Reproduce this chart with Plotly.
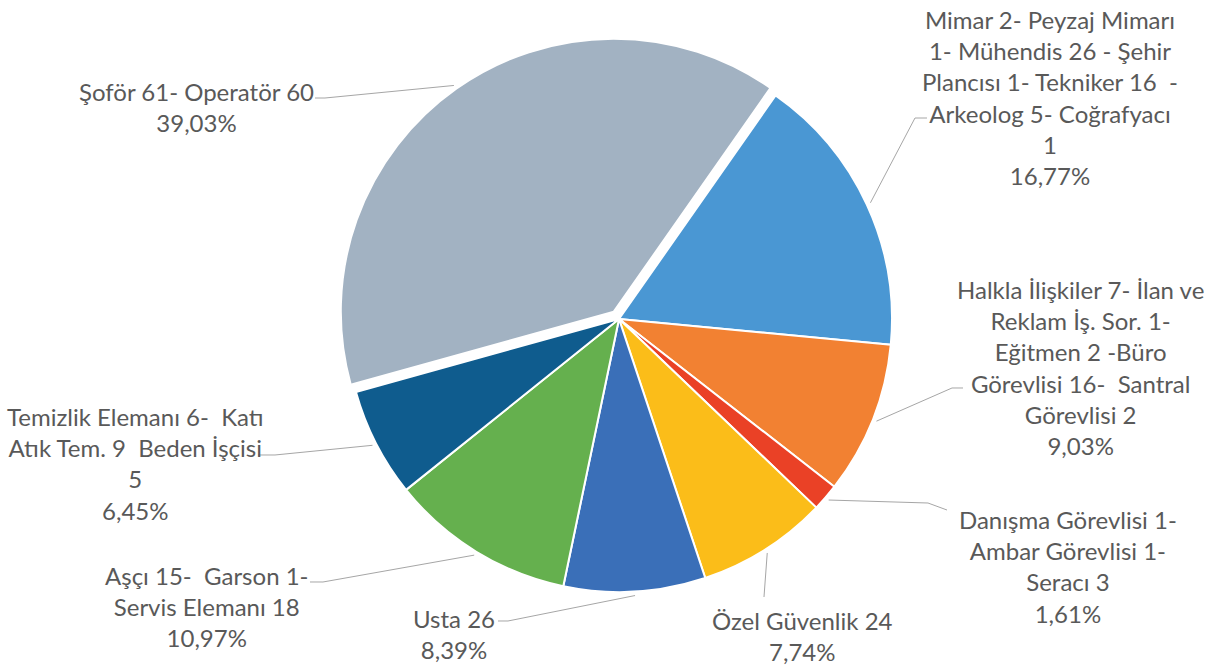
import math

import plotly.graph_objects as go

# data
categories = [
    "Mimar 2- Peyzaj Mimarı<br>1- Mühendis 26 - Şehir<br>Plancısı 1- Tekniker 16 \u00a0-<br>Arkeolog 5- Coğrafyacı<br>1",
    "Halkla İlişkiler 7- İlan ve<br>Reklam İş. Sor. 1-<br>Eğitmen 2 -Büro<br>Görevlisi 16- \u00a0Santral<br>Görevlisi 2",
    "Danışma Görevlisi 1-<br>Ambar Görevlisi 1-<br>Seracı 3",
    "Özel Güvenlik 24",
    "Usta 26",
    "Aşçı 15- \u00a0Garson 1-<br>Servis Elemanı 18",
    "Temizlik Elemanı 6- \u00a0Katı<br>Atık Tem. 9 \u00a0Beden İşçisi<br>5",
    "Şoför 61- Operatör 60",
]
values = [52, 28, 5, 24, 26, 34, 20, 121]
colors = ["#4A97D3", "#F28132", "#EA4126", "#FBBD19", "#3A6FB8", "#65B04E", "#0F5C8E", "#A2B2C2"]

# layout, in page pixels
W, H = 1208, 666
CX, CY, R = 619, 319, 273
PULL = 0.033
ROTATION = 35
pulls = [0, 0, 0, 0, 0, 0, 0, PULL]
label_pos = [(1050, 97), (1080, 367), (1068, 566), (802, 636), (454, 634), (207, 606), (135, 464), (196, 107)]
leader_bends = [
    [(915, 118), (927, 118)],
    [(952, 388), (963, 388)],
    [(928, 503), (947, 510)],
    [(764, 597)],
    [(508, 621), (498, 621)],
    [(323, 582), (310, 582)],
    [(275, 455), (258, 455)],
    [(325, 98), (315, 98)],
]
TEXT_COLOR = "#595959"
LINE_COLOR = "#A6A6A6"


def px(x, y):
    return x / W, 1 - y / H


total = sum(values)
half = R * (1 + PULL)
x0, y1 = px(CX - half, CY - half)
x1, y0 = px(CX + half, CY + half)
fig = go.Figure(go.Pie(
    labels=categories, values=values, sort=False, direction="clockwise", rotation=ROTATION,
    pull=pulls, marker=dict(colors=colors, line=dict(color="white", width=2)),
    textinfo="none", hoverinfo="label+percent", showlegend=False,
    domain=dict(x=[x0, x1], y=[y0, y1]),
))

shapes, annotations = [], []
cum = 0
for name, v, p, (lx, ly), bends in zip(categories, values, pulls, label_pos, leader_bends):
    mid = math.radians(ROTATION + (cum + v / 2) / total * 360)
    cum += v
    ox = CX + p * R * math.sin(mid)
    oy = CY - p * R * math.cos(mid)
    sx = ox + (R + 4) * math.sin(mid)
    sy = oy - (R + 4) * math.cos(mid)
    pts = [px(sx, sy)] + [px(bx, by) for bx, by in bends]
    path = "M " + " L ".join(f"{a:.5f},{b:.5f}" for a, b in pts)
    shapes.append(dict(type="path", xref="paper", yref="paper", path=path,
                       line=dict(color=LINE_COLOR, width=1)))
    pct = f"{v / total * 100:.2f}".replace(".", ",") + "%"
    ax, ay = px(lx, ly)
    annotations.append(dict(x=ax, y=ay, xref="paper", yref="paper", text=f"{name}<br>{pct}",
                            showarrow=False, align="center", xanchor="center", yanchor="middle",
                            font=dict(family="Lato", size=24, color=TEXT_COLOR)))

fig.update_layout(width=W, height=H, margin=dict(l=0, r=0, t=0, b=0),
                  paper_bgcolor="white", plot_bgcolor="white",
                  shapes=shapes, annotations=annotations)
# drop the browser's default body margin so the 1208x666 figure fills the window
fig.write_html("out.html", config={"displayModeBar": False},
               post_script="document.body.style.margin='0';")
